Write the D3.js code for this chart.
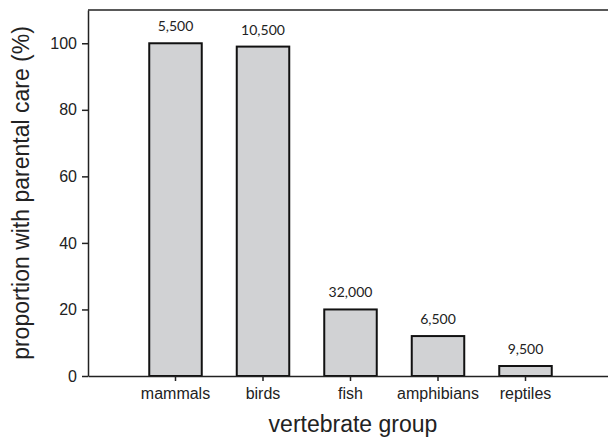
<!DOCTYPE html>
<html>
<head>
<meta charset="utf-8">
<script src="https://cdn.jsdelivr.net/npm/d3@7"></script>
<style>
  body { margin: 0; background: #fff; }
  .axis text { font-family: "Liberation Sans", Arial, sans-serif; font-size: 16px; fill: #222; }
  .axis path, .axis line { stroke: #222; stroke-width: 1.5px; }
</style>
</head>
<body>
<div id="chart"></div>
<script>
// vertebrate groups and their share with parental care
var groups = ["mammals", "birds", "fish", "amphibians", "reptiles"];
var careValues = [100, 99, 20, 12, 3];
var speciesCounts = ["5,500", "10,500", "32,000", "6,500", "9,500"];
var yTicks = [0, 20, 40, 60, 80, 100];

var data = groups.map(function(g, i) {
  return {group: g, value: careValues[i], label: speciesCounts[i]};
});

// dimensions
var W = 608, H = 438;
var margin = {top: 10, right: -5, bottom: 62, left: 88},
    width = W - margin.left - margin.right,
    height = H - margin.top - margin.bottom;

var svg = d3.select("#chart")
  .append("svg")
  .attr("width", W)
  .attr("height", H)
  .append("g")
  .attr("transform", "translate(" + margin.left + "," + margin.top + ")");

// X scale
var x = d3.scaleBand()
  .range([0, width])
  .domain(groups)
  .paddingInner(0.4)
  .paddingOuter(0.7);

// Y scale
var y = d3.scaleLinear()
  .domain([0, 110])
  .range([height, 0]);

// top frame line
svg.append("line")
  .attr("x1", 0).attr("x2", width)
  .attr("y1", 0).attr("y2", 0)
  .attr("stroke", "#222")
  .attr("stroke-width", 1.5);

// bars
svg.selectAll("rect.bar")
  .data(data)
  .enter()
  .append("rect")
    .attr("class", "bar")
    .attr("x", function(d) { return x(d.group); })
    .attr("y", function(d) { return y(d.value); })
    .attr("width", x.bandwidth())
    .attr("height", function(d) { return height - y(d.value); })
    .attr("fill", "#d1d2d4")
    .attr("stroke", "#111")
    .attr("stroke-width", 2);

// count labels above bars
svg.selectAll("text.count")
  .data(data)
  .enter()
  .append("text")
    .attr("class", "count")
    .attr("x", function(d) { return x(d.group) + x.bandwidth() / 2; })
    .attr("y", function(d) { return y(d.value) - 12; })
    .attr("text-anchor", "middle")
    .style("font-family", "Lato, 'Open Sans', sans-serif")
    .style("font-size", "14px")
    .style("fill", "#222")
    .text(function(d) { return d.label; });

// X axis
svg.append("g")
  .attr("class", "axis")
  .attr("transform", "translate(0," + height + ")")
  .call(d3.axisBottom(x).tickSize(5).tickSizeOuter(0).tickPadding(7));

// Y axis
svg.append("g")
  .attr("class", "axis")
  .call(d3.axisLeft(y).tickValues(yTicks).tickSize(6).tickSizeOuter(0).tickPadding(5));

// axis titles
svg.append("text")
  .attr("x", 353 - margin.left)
  .attr("y", 432 - margin.top)
  .attr("text-anchor", "middle")
  .style("font-family", "'Liberation Sans', Arial, sans-serif")
  .style("font-size", "23px")
  .style("fill", "#222")
  .text("vertebrate group");

svg.append("text")
  .attr("transform", "rotate(-90)")
  .attr("x", -height / 2)
  .attr("y", 29 - margin.left)
  .attr("text-anchor", "middle")
  .style("font-family", "'Liberation Sans', Arial, sans-serif")
  .style("font-size", "23px")
  .style("fill", "#222")
  .text("proportion with parental care (%)");
</script>
</body>
</html>
